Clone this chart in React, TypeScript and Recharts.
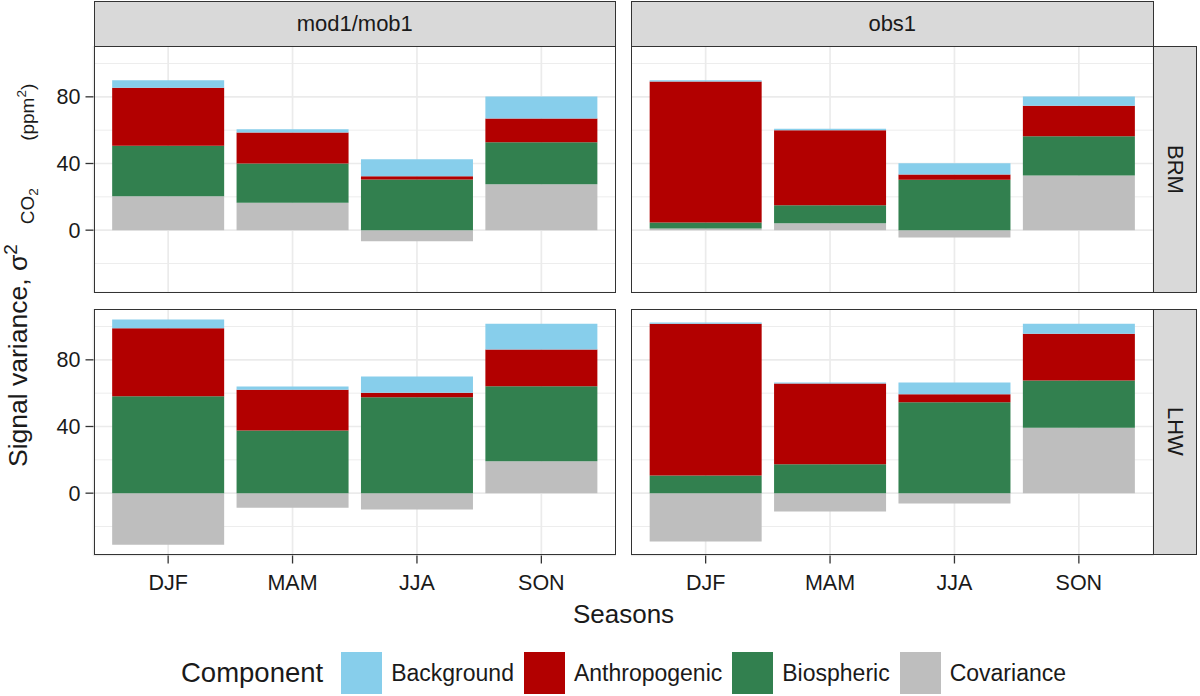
import React from 'react'
import { BarChart, Bar, XAxis, YAxis, CartesianGrid } from 'recharts'

const seasons = ['DJF', 'MAM', 'JJA', 'SON']
const components = ['Background', 'Anthropogenic', 'Biospheric', 'Covariance']
const componentColors = ['#87CEEB', '#B20000', '#32804F', '#BEBEBE']
// stacking order, bottom first
const stackOrder = ['Covariance', 'Biospheric', 'Anthropogenic', 'Background']

// mod1/mob1 - BRM
const modBrmBackground = [4.6, 2.0, 10.2, 13.2]
const modBrmAnthropogenic = [34.8, 18.6, 2.0, 14.2]
const modBrmBiospheric = [30.2, 23.6, 30.4, 25.2]
const modBrmCovariance = [20.4, 16.4, -6.6, 27.6]

// obs1 - BRM
const obsBrmBackground = [0.8, 0.8, 6.8, 5.6]
const obsBrmAnthropogenic = [84.6, 45.0, 3.2, 18.2]
const obsBrmBiospheric = [3.6, 10.8, 30.2, 23.6]
const obsBrmCovariance = [1.0, 4.2, -4.4, 32.8]

// mod1/mob1 - LHW
const modLhwBackground = [5.2, 2.0, 9.8, 15.4]
const modLhwAnthropogenic = [40.8, 24.4, 2.6, 22.0]
const modLhwBiospheric = [58.2, 37.6, 57.6, 45.0]
const modLhwCovariance = [-31.0, -8.8, -9.8, 19.2]

// obs1 - LHW
const obsLhwBackground = [0.8, 0.6, 7.0, 6.0]
const obsLhwAnthropogenic = [91.0, 48.4, 4.8, 28.0]
const obsLhwBiospheric = [10.6, 17.4, 54.6, 28.4]
const obsLhwCovariance = [-29.0, -11.0, -6.2, 39.2]

const majorBreaks = [0, 40, 80]
const minorBreaks = [-20, 20, 60, 100]
const yDomain: [number, number] = [-37.4, 110.5]

const colNames = ['mod1/mob1', 'obs1']
const rowNames = ['BRM', 'LHW']

const FONT = '"Liberation Sans", Arial, Helvetica, sans-serif'
const TEXT = '#1A1A1A'
const DARK = '#333333'

const LEFT_X = 93.5
const RIGHT_X = 631
const PANEL_W = 522.5
const TOP_Y = 46
const BOTTOM_Y = 308.5
const PANEL_H = 246.5
const Y_AXIS_W = 93.5
const X_AXIS_H = 50
const PAD = (PANEL_W * 0.1) / 4.2

function buildRows(bg: number[], an: number[], bio: number[], cov: number[]) {
  return seasons.map((season, i) => ({
    season,
    Background: bg[i],
    Anthropogenic: an[i],
    Biospheric: bio[i],
    Covariance: cov[i],
  }))
}

const panels = [
  { data: buildRows(modBrmBackground, modBrmAnthropogenic, modBrmBiospheric, modBrmCovariance), col: 0, row: 0 },
  { data: buildRows(obsBrmBackground, obsBrmAnthropogenic, obsBrmBiospheric, obsBrmCovariance), col: 1, row: 0 },
  { data: buildRows(modLhwBackground, modLhwAnthropogenic, modLhwBiospheric, modLhwCovariance), col: 0, row: 1 },
  { data: buildRows(obsLhwBackground, obsLhwAnthropogenic, obsLhwBiospheric, obsLhwCovariance), col: 1, row: 1 },
]

function colorOf(name: string) {
  return componentColors[components.indexOf(name)]
}

function Panel({ data, col, row }: { data: ReturnType<typeof buildRows>; col: number; row: number }) {
  const showY = col === 0
  const showX = row === 1
  const left = col === 0 ? LEFT_X : RIGHT_X
  const top = row === 0 ? TOP_Y : BOTTOM_Y
  const width = PANEL_W + (showY ? Y_AXIS_W : 0)
  const height = PANEL_H + (showX ? X_AXIS_H : 0)
  return (
    <div style={{ position: 'absolute', left: showY ? left - Y_AXIS_W : left, top }}>
      <BarChart
        width={width}
        height={height}
        data={data}
        stackOffset="sign"
        barCategoryGap="5%"
        margin={{ top: 0, right: 0, bottom: 0, left: 0 }}
      >
        <CartesianGrid yAxisId="minor" vertical={false} stroke="#EBEBEB" strokeWidth={0.9} />
        <CartesianGrid stroke="#EBEBEB" strokeWidth={1.7} />
        <XAxis
          dataKey="season"
          hide={!showX}
          height={X_AXIS_H}
          padding={{ left: PAD, right: PAD }}
          interval={0}
          axisLine={false}
          tickSize={8}
          tickMargin={11}
          tickLine={{ stroke: DARK, strokeWidth: 1.3 }}
          tick={{ fill: TEXT, fontSize: 21.5 }}
        />
        <YAxis
          type="number"
          domain={yDomain}
          allowDataOverflow
          ticks={majorBreaks}
          hide={!showY}
          width={Y_AXIS_W}
          axisLine={false}
          tickSize={8}
          tickMargin={5}
          tickLine={{ stroke: DARK, strokeWidth: 1.3 }}
          tick={{ fill: TEXT, fontSize: 21.5 }}
        />
        <YAxis yAxisId="minor" type="number" domain={yDomain} allowDataOverflow ticks={minorBreaks} hide />
        {stackOrder.map((name) => (
          <Bar key={name} dataKey={name} stackId="s" fill={colorOf(name)} isAnimationActive={false} />
        ))}
      </BarChart>
    </div>
  )
}

export default function App() {
  return (
    <div
      style={{
        position: 'absolute',
        left: 0,
        top: 0,
        width: 1200,
        height: 696,
        background: '#FFFFFF',
        fontFamily: FONT,
        overflow: 'hidden',
      }}
    >
      {panels.map((p) => (
        <Panel key={`${p.col}-${p.row}`} data={p.data} col={p.col} row={p.row} />
      ))}

      {/* panel borders */}
      {panels.map((p) => (
        <div
          key={`border-${p.col}-${p.row}`}
          style={{
            position: 'absolute',
            left: p.col === 0 ? LEFT_X : RIGHT_X,
            top: p.row === 0 ? TOP_Y : BOTTOM_Y,
            width: PANEL_W,
            height: PANEL_H,
            border: `1.4px solid ${DARK}`,
            boxSizing: 'border-box',
            pointerEvents: 'none',
          }}
        />
      ))}

      {/* column strips */}
      {colNames.map((name, i) => (
        <div
          key={name}
          style={{
            position: 'absolute',
            left: i === 0 ? LEFT_X : RIGHT_X,
            top: 1,
            width: PANEL_W,
            height: TOP_Y - 0.5,
            background: '#D9D9D9',
            border: `1.4px solid ${DARK}`,
            boxSizing: 'border-box',
            display: 'flex',
            alignItems: 'center',
            justifyContent: 'center',
            fontSize: 22,
            color: TEXT,
          }}
        >
          {name}
        </div>
      ))}

      {/* row strips */}
      {rowNames.map((name, i) => (
        <div
          key={name}
          style={{
            position: 'absolute',
            left: RIGHT_X + PANEL_W - 0.5,
            top: i === 0 ? TOP_Y : BOTTOM_Y,
            width: 44,
            height: PANEL_H,
            background: '#D9D9D9',
            border: `1.4px solid ${DARK}`,
            boxSizing: 'border-box',
            display: 'flex',
            alignItems: 'center',
            justifyContent: 'center',
            fontSize: 22,
            color: TEXT,
          }}
        >
          <span style={{ writingMode: 'vertical-rl' }}>{name}</span>
        </div>
      ))}

      {/* y axis title */}
      <svg width={60} height={696} style={{ position: 'absolute', left: 0, top: 0 }}>
        <text
          transform="translate(27,467) rotate(-90)"
          textAnchor="start"
          fontSize={26.5}
          fill={TEXT}
          fontFamily={FONT}
        >
          {'Signal variance, σ'}
          <tspan fontSize={19} dy={-10}>2</tspan>
          <tspan fontSize={19} dx={20} dy={17}>CO</tspan>
          <tspan fontSize={13.5} dy={4}>2</tspan>
          <tspan fontSize={19} dx={42} dy={-4}>{' (ppm'}</tspan>
          <tspan fontSize={13.5} dy={-8}>2</tspan>
          <tspan fontSize={19} dy={8}>)</tspan>
        </text>
      </svg>

      {/* x axis title */}
      <div
        style={{
          position: 'absolute',
          left: LEFT_X,
          width: RIGHT_X + PANEL_W - LEFT_X,
          top: 599,
          textAlign: 'center',
          fontSize: 26,
          color: TEXT,
          lineHeight: '30px',
        }}
      >
        Seasons
      </div>

      {/* legend */}
      <div
        style={{
          position: 'absolute',
          left: 181,
          top: 652,
          height: 42,
          display: 'flex',
          alignItems: 'center',
          color: TEXT,
        }}
      >
        <span style={{ fontSize: 27.5, marginRight: 18 }}>Component</span>
        {components.map((name, i) => (
          <div key={name} style={{ display: 'flex', alignItems: 'center', marginRight: 10 }}>
            <div style={{ width: 41, height: 42, background: componentColors[i], marginRight: 9 }} />
            <span style={{ fontSize: 23 }}>{name}</span>
          </div>
        ))}
      </div>
    </div>
  )
}
